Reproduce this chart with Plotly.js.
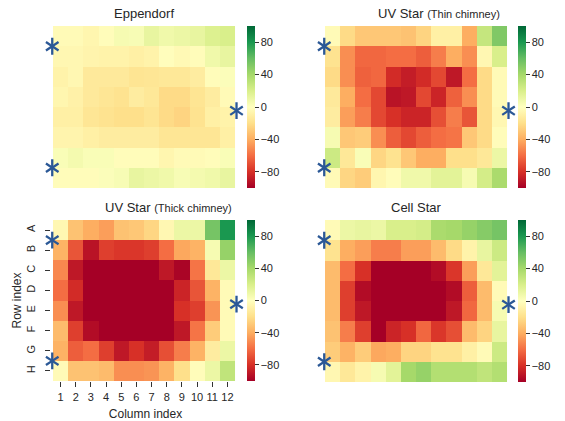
<!DOCTYPE html>
<html>
<head>
<meta charset="utf-8">
<script src="https://cdn.plot.ly/plotly-3.0.1.min.js"></script>
<style>html,body{margin:0;padding:0;background:#fff;}#chart{width:565px;height:421px;}</style>
</head>
<body>
<div id="chart"></div>
<script>
// ---- data ----
var rowLabels = ['A','B','C','D','E','F','G','H'];
var colLabels = [1,2,3,4,5,6,7,8,9,10,11,12];
var titleMain = ['Eppendorf', 'UV Star', 'UV Star', 'Cell Star'];
var titleSub = ['', '(Thin chimney)', '(Thick chimney)', ''];

var eppendorf = [
  [-3, -3, -6, -2, 5, 4, 12, 8, 10, 12, 18, 20],
  [-5, -5, -7, -8, -8, -10, -8, -1, -4, -2, 8, 12],
  [-8, -5, -14, -14, -14, -17, -16, -15, -15, -12, -2, 2],
  [-6, -9, -14, -16, -18, -12, -15, -22, -22, -17, -12, -3],
  [-10, -10, -16, -18, -20, -20, -17, -22, -25, -18, -10, -8],
  [-7, -7, -10, -12, -12, -12, -12, -16, -16, -16, -16, -10],
  [3, 6, 3, 3, -2, -2, -2, -6, -3, -3, -2, 3],
  [-2, -2, -2, 2, 4, 12, 10, 8, 4, 6, 8, 12]
];
var uvThin = [
  [-3, -22, -30, -30, -30, -32, -25, -10, -10, -40, 28, 52],
  [-18, -50, -62, -62, -60, -60, -65, -55, -40, -50, -5, 20],
  [-22, -50, -64, -62, -82, -88, -82, -72, -90, -60, -22, -3],
  [-14, -40, -60, -72, -92, -90, -72, -85, -64, -50, -22, -3],
  [-12, -45, -55, -72, -80, -85, -85, -70, -55, -68, -22, -5],
  [5, -30, -28, -50, -65, -72, -65, -60, -58, -30, -22, -2],
  [25, -15, 3, -24, -18, -30, -40, -40, -20, -20, -15, 10],
  [-3, -24, -28, -6, -2, 8, 8, 15, 15, 5, 22, 38]
];
var uvThick = [
  [-5, -32, -40, -45, -32, -30, -24, -5, 10, 10, 55, 80],
  [-38, -68, -92, -75, -78, -78, -75, -60, -42, -38, 5, 45],
  [-52, -90, -100, -100, -100, -100, -100, -90, -98, -58, -15, 10],
  [-60, -82, -100, -100, -100, -100, -100, -100, -85, -68, -38, -3],
  [-50, -90, -100, -100, -100, -100, -100, -100, -80, -75, -48, -3],
  [-35, -75, -95, -100, -100, -100, -100, -100, -90, -58, -28, -3],
  [-38, -65, -60, -75, -90, -80, -88, -70, -55, -38, -12, 10],
  [-3, -32, -32, -35, -50, -50, -48, -38, -20, -2, 10, 30]
];
var cellStar = [
  [-3, 10, 12, 10, 20, 20, 22, 38, 40, 45, 50, 55],
  [-18, -40, -45, -55, -55, -45, -45, -35, -22, -8, 12, 25],
  [-35, -60, -80, -100, -100, -100, -100, -95, -78, -45, -15, 15],
  [-35, -75, -95, -100, -100, -100, -100, -100, -95, -65, -35, -3],
  [-35, -75, -90, -100, -100, -100, -100, -100, -90, -62, -35, 5],
  [-32, -55, -75, -100, -85, -80, -62, -78, -70, -35, -25, 12],
  [-28, -38, -28, -42, -40, -25, -25, -18, -18, -10, -3, 25],
  [-5, -15, -8, 5, 15, 40, 45, 35, 35, 35, 30, 35]
];
// asterisk markers (column / row coordinates, 1-based centers)
var starX = [0.45, 12.6, 0.45];
var starY = [1.5, 4.68, 7.5];
var cbTicks = [-80, -40, 0, 40, 80];

// ---- style ----
var rdylgn = [
  [0.0, '#a50026'], [0.1, '#d73027'], [0.2, '#f46d43'], [0.3, '#fdae61'],
  [0.4, '#fee08b'], [0.5, '#ffffbf'], [0.6, '#d9ef8b'], [0.7, '#a6d96a'],
  [0.8, '#66bd63'], [0.9, '#1a9850'], [1.0, '#006837']
];
var W = 565, H = 421;
var XR = [0.4, 12.8];   // x range incl. room for the asterisks
var panels = [
  {z: eppendorf, x0: 53, x1: 235, y0: 26, y1: 188, cbx: 247, tx: 144, anchor: 'center'},
  {z: uvThin,    x0: 325, x1: 507, y0: 26, y1: 188, cbx: 518, tx: 376, anchor: 'left'},
  {z: uvThick,   x0: 53, x1: 235, y0: 220, y1: 381, cbx: 247, tx: 103, anchor: 'left'},
  {z: cellStar,  x0: 325, x1: 507, y0: 220, y1: 382, cbx: 518, tx: 416, anchor: 'center'}
];
var rowIdx = rowLabels.map(function(_, i){ return i + 1; });
var txt = '#262626';
var starColor = '#2b5896';

var data = [];
var layout = {
  width: W, height: H,
  margin: {l: 0, r: 0, t: 0, b: 0},
  paper_bgcolor: '#fff', plot_bgcolor: 'rgba(0,0,0,0)',
  showlegend: false,
  font: {family: 'Liberation Sans, Arial, sans-serif', color: txt, size: 11},
  annotations: []
};

panels.forEach(function(p, k){
  var n = k + 1;
  var xa = 'x' + (n === 1 ? '' : n), ya = 'y' + (n === 1 ? '' : n);
  var xk = 'xaxis' + (n === 1 ? '' : n), yk = 'yaxis' + (n === 1 ? '' : n);
  var cw = (p.x1 - p.x0) / 12;
  var dx0 = p.x0 - (0.5 - XR[0]) * cw, dx1 = p.x1 + (XR[1] - 12.5) * cw;
  data.push({
    type: 'heatmap', z: p.z, x: colLabels, y: rowIdx,
    xaxis: xa, yaxis: ya,
    colorscale: rdylgn, zmin: -100, zmax: 100,
    hoverinfo: 'skip',
    colorbar: {
      x: p.cbx / W, xanchor: 'left', xref: 'paper',
      y: 1 - (p.y0 + p.y1) / 2 / H, yanchor: 'middle',
      len: (p.y1 - p.y0) / H, lenmode: 'fraction',
      thickness: 8, thicknessmode: 'pixels',
      outlinewidth: 0,
      tickvals: cbTicks, ticktext: cbTicks.map(function(v){ return v < 0 ? '\u2212' + Math.abs(v) : String(v); }),
      ticks: 'outside', ticklen: 4, tickwidth: 1, tickcolor: '#333',
      tickfont: {size: 11, color: txt},
      ypad: 0, xpad: 0
    }
  });
  // asterisk markers (6 arms = y-up + y-down)
  ['y-up-open', 'y-down-open'].forEach(function(sym){
    data.push({
      type: 'scatter', mode: 'markers', x: starX, y: starY,
      xaxis: xa, yaxis: ya, cliponaxis: false, hoverinfo: 'skip',
      marker: {symbol: sym, size: 10.5, color: starColor, line: {color: starColor, width: 2.3}}
    });
  });
  var bottomLeft = (k === 2);
  layout[xk] = {
    domain: [dx0 / W, dx1 / W], anchor: ya,
    range: XR, showgrid: false, zeroline: false, showline: false,
    tickvals: colLabels, ticktext: colLabels.map(String),
    showticklabels: bottomLeft, ticks: bottomLeft ? 'outside' : '',
    ticklen: 5, tickwidth: 1, tickcolor: '#333', ticklabelstandoff: 1,
    tickfont: {size: 11, color: txt}, fixedrange: true
  };
  layout[yk] = {
    domain: [1 - p.y1 / H, 1 - p.y0 / H], anchor: xa,
    range: [8.5, 0.5], showgrid: false, zeroline: false, showline: false,
    tickvals: rowIdx, ticktext: rowLabels,
    showticklabels: bottomLeft, ticks: bottomLeft ? 'outside' : '',
    ticklen: 5, tickwidth: 1, tickcolor: '#333', tickangle: -90, ticklabelstandoff: 6,
    tickfont: {size: 11, color: txt}, fixedrange: true
  };
  if (bottomLeft) {
    layout[xk].title = {text: 'Column index', font: {size: 12, color: txt}, standoff: 12};
    layout[yk].title = {text: 'Row index', font: {size: 12, color: txt}, standoff: 0};
  }
  var t = titleMain[k] + (titleSub[k] ? ' <span style="font-size:11px">' + titleSub[k] + '</span>' : '');
  layout.annotations.push({
    text: t, showarrow: false,
    xref: 'paper', yref: 'paper',
    x: p.tx / W, y: 1 - (p.y0 - 3) / H,
    xanchor: p.anchor, yanchor: 'bottom',
    font: {size: 13, color: txt}
  });
});

Plotly.newPlot('chart', data, layout, {displayModeBar: false, staticPlot: true});
</script>
</body>
</html>
